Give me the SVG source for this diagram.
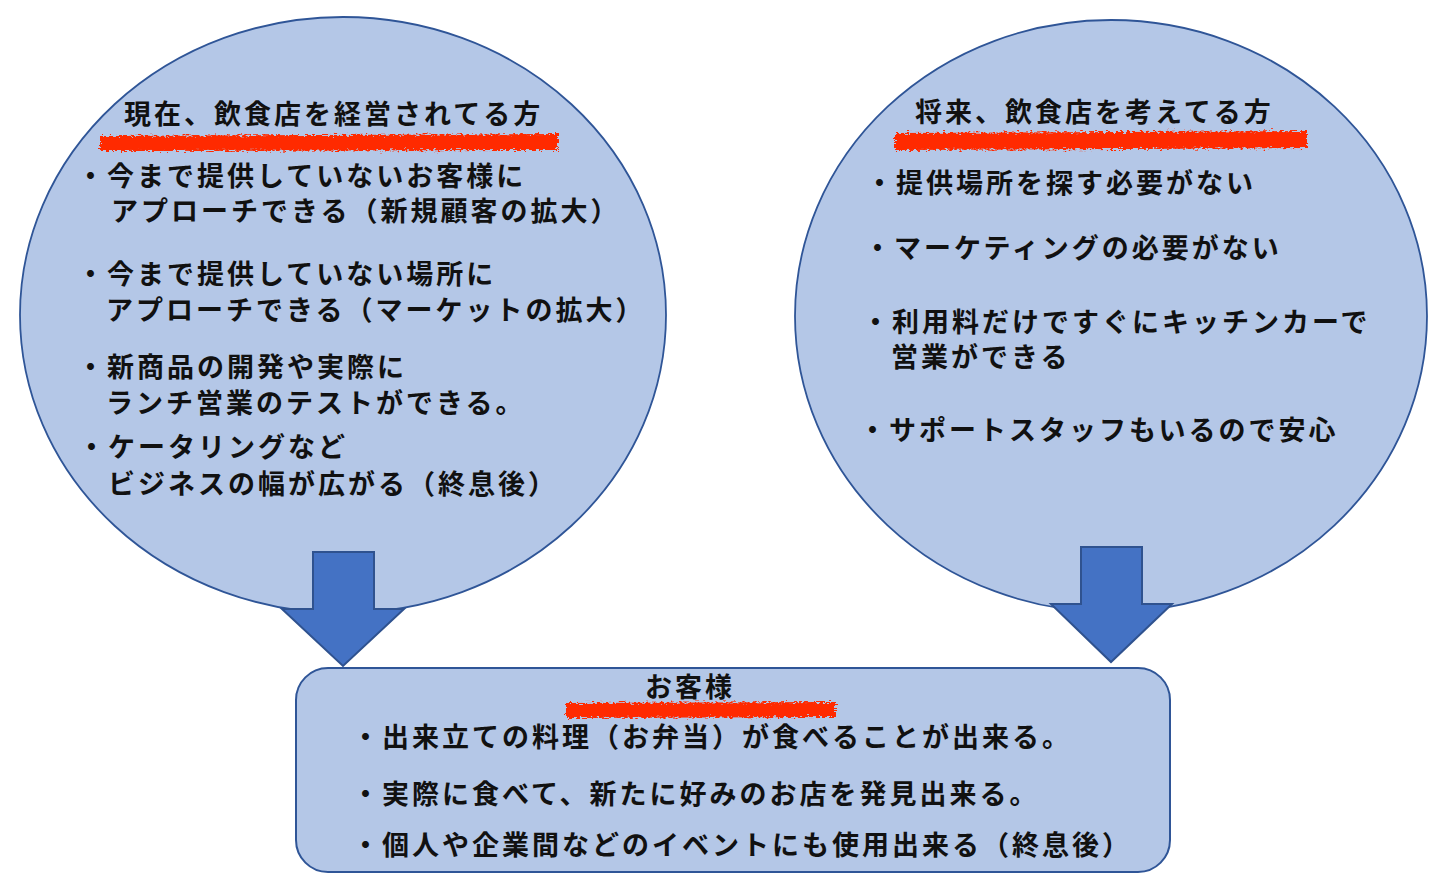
<svg xmlns="http://www.w3.org/2000/svg" width="1443" height="881" viewBox="0 0 1443 881">
<style>
.shape{fill:#B4C7E7;stroke:#2F5597;stroke-width:1.8}
.arrow{fill:#4472C4;stroke:#2F528F;stroke-width:2;stroke-linejoin:miter}
.t{font-family:"Noto Sans CJK JP","Noto Sans CJK SC",sans-serif;font-weight:bold;font-size:27px;letter-spacing:3px;fill:#111}
.mark{fill:#FF2A00;filter:url(#rough)}
</style>
<defs>
<filter id="rough" x="-5%" y="-60%" width="110%" height="220%">
<feTurbulence type="fractalNoise" baseFrequency="0.3 0.7" numOctaves="2" seed="3" result="n"/>
<feDisplacementMap in="SourceGraphic" in2="n" scale="8" xChannelSelector="R" yChannelSelector="G"/>
</filter>
</defs>
<rect width="1443" height="881" fill="#fff"/>
<g id="node-current">
<ellipse class="shape" cx="343" cy="315" rx="323" ry="298"/>
<path class="mark" d="M100,136 L558,134 L558,150 L100,151 Z"/>
<text class="t" x="124" y="124">現在、飲食店を経営されてる方</text>
<text class="t" x="77" y="186">・今まで提供していないお客様に</text>
<text class="t" x="111" y="221">アプローチできる（新規顧客の拡大）</text>
<text class="t" x="77" y="284">・今まで提供していない場所に</text>
<text class="t" x="106" y="320">アプローチできる（マーケットの拡大）</text>
<text class="t" x="77" y="377">・新商品の開発や実際に</text>
<text class="t" x="106" y="413">ランチ営業のテストができる。</text>
<text class="t" x="78" y="457">・ケータリングなど</text>
<text class="t" x="108" y="494">ビジネスの幅が広がる（終息後）</text>
</g>
<g id="node-future">
<ellipse class="shape" cx="1111" cy="316" rx="316" ry="296"/>
<path class="mark" d="M895,133 L1307,131 L1307,148 L895,150 Z"/>
<text class="t" x="915" y="122">将来、飲食店を考えてる方</text>
<text class="t" x="866" y="193">・提供場所を探す必要がない</text>
<text class="t" x="864" y="258">・マーケティングの必要がない</text>
<text class="t" x="862" y="332">・利用料だけですぐにキッチンカーで</text>
<text class="t" x="891" y="367">営業ができる</text>
<text class="t" x="859" y="440">・サポートスタッフもいるので安心</text>
</g>
<g id="node-customer">
<rect class="shape" x="296" y="668" width="874" height="204" rx="32" ry="32" style="stroke-width:2"/>
<path class="mark" d="M566,703 L836,702 L836,717 L566,718 Z"/>
<text class="t" x="690" y="697" text-anchor="middle">お客様</text>
<text class="t" x="352" y="747">・出来立ての料理（お弁当）が食べることが出来る。</text>
<text class="t" x="352" y="804">・実際に食べて、新たに好みのお店を発見出来る。</text>
<text class="t" x="352" y="855">・個人や企業間などのイベントにも使用出来る（終息後）</text>
</g>
<g id="connectors">
<path class="arrow" d="M313,552 L374,552 L374,609 L404,609 L343,666 L282,609 L313,609 Z"/>
<path class="arrow" d="M1081,547 L1142,547 L1142,604 L1172,604 L1111,662 L1051,604 L1081,604 Z"/>
</g>
</svg>
